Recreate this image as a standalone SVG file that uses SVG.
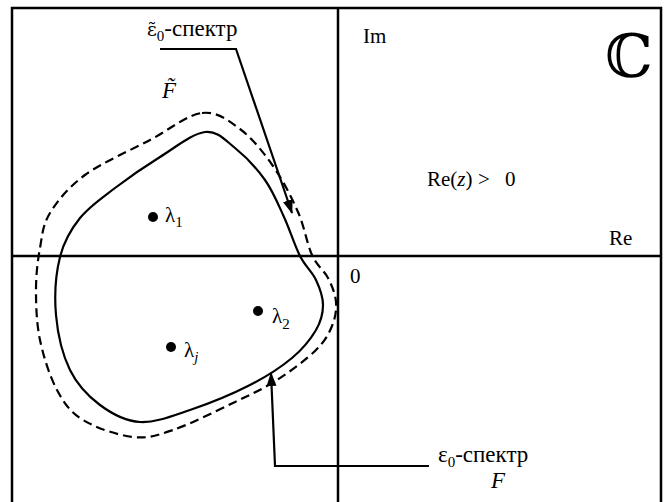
<svg xmlns="http://www.w3.org/2000/svg" width="667" height="502" viewBox="0 0 667 502">
<defs>
<style>
.ln{fill:none;stroke:#000;stroke-width:2.5}
.cv{fill:none;stroke:#000;stroke-width:2.2}
.ds{fill:none;stroke:#000;stroke-width:2.2;stroke-dasharray:9 5}
.t{font-family:"Liberation Serif","Times New Roman",serif;font-size:21px;fill:#000}
.b{font-size:23px}
.s{font-size:15px}
.i{font-style:italic}
.dv{font-family:"DejaVu Serif",serif;font-size:19px}
.pt{fill:#000}
.cn{fill:none;stroke:#000;stroke-width:2.2}
</style>
<marker id="ah" markerUnits="userSpaceOnUse" markerWidth="14" markerHeight="10" viewBox="0 0 14 10" refX="13" refY="5" orient="auto">
<path d="M0,0 L14,5 L0,10 Z" fill="#000"/>
</marker>
</defs>
<rect width="667" height="502" fill="#fff"/>
<g id="frame">
<path class="ln" d="M12,502 V8 H661 V502"/>
</g>
<g id="axes">
<line class="ln" x1="12" y1="256" x2="661" y2="256"/>
<line class="ln" x1="338" y1="8" x2="338" y2="502"/>
<text class="t" x="363" y="43">Im</text>
<text class="t" x="609" y="245">Re</text>
<text class="t" x="350" y="283">0</text>
<text x="605" y="77" style="font-family:'DejaVu Serif','DejaVu Sans',serif;font-size:60px">ℂ</text>
<text class="t" x="427" y="186">Re(<tspan class="i">z</tspan>)<tspan x="478">&gt;</tspan><tspan x="505">0</tspan></text>
</g>
<g id="curve-F">
<path class="cv" d="M205,132 C217.5,130.5 225,140 235,148 C245,156 256.83,168.5 265,180 C273.17,191.5 278.17,204.33 284,217 C289.83,229.67 294.67,245.5 300,256 C305.33,266.5 312.17,271.83 316,280 C319.83,288.17 323,296.67 323,305 C323,313.33 321.17,321.17 316,330 C310.83,338.83 303,348.83 292,358 C281,367.17 267,376.33 250,385 C233,393.67 208.33,403.83 190,410 C171.67,416.17 155,422.83 140,422 C125,421.17 111.67,413.67 100,405 C88.33,396.33 77.33,385 70,370 C62.67,355 57.67,333.83 56,315 C54.33,296.17 56,273.17 60,257 C64,240.83 70.83,229.5 80,218 C89.17,206.5 101.67,198.17 115,188 C128.33,177.83 145,166.33 160,157 C175,147.67 192.5,133.5 205,132 Z"/>
</g>
<g id="curve-F-tilde">
<path class="ds" d="M202,113 C217,111.17 228.17,120.17 240,129 C251.83,137.83 263.33,152.17 273,166 C282.67,179.83 291.5,197.17 298,212 C304.5,226.83 307,244 312,255 C317,266 324,270.17 328,278 C332,285.83 335.33,294 336,302 C336.67,310 335.33,318 332,326 C328.67,334 325.17,341 316,350 C306.83,359 290.83,371.17 277,380 C263.17,388.83 250.33,394.67 233,403 C215.67,411.33 189.67,424.33 173,430 C156.33,435.67 148,438.67 133,437 C118,435.33 95.67,427.83 83,420 C70.33,412.17 64.17,403.33 57,390 C49.83,376.67 43.5,356.67 40,340 C36.5,323.33 36,305.33 36,290 C36,274.67 37.67,260.83 40,248 C42.33,235.17 42.5,225.17 50,213 C57.5,200.83 68.33,187.17 85,175 C101.67,162.83 130.5,150.33 150,140 C169.5,129.67 187,114.83 202,113 Z"/>
<text class="t i b" x="162" y="98">F̃</text>
</g>
<g id="lambda-1">
<circle class="pt" cx="153" cy="217" r="5"/>
<text class="t" x="165" y="222">λ<tspan class="s" dy="5">1</tspan></text>
</g>
<g id="lambda-2">
<circle class="pt" cx="258" cy="311" r="5"/>
<text class="t" x="272" y="323">λ<tspan class="s" dy="6">2</tspan></text>
</g>
<g id="lambda-j">
<circle class="pt" cx="171" cy="347" r="5"/>
<text class="t" x="184" y="357">λ<tspan class="s i" dy="5">j</tspan></text>
</g>
<g id="label-eps-tilde">
<text class="t b" x="147" y="36"><tspan class="dv">ε̃</tspan><tspan class="s" dy="5">0</tspan><tspan dy="-5">-спектр</tspan></text>
</g>
<g id="label-eps">
<text class="t b" x="438" y="462">ε<tspan class="s" dy="5">0</tspan><tspan dy="-5">-спектр</tspan></text>
<text class="t i b" x="491" y="488">F</text>
</g>
<g id="connectors">
<path class="cn" d="M160,49 H236 L292,213" marker-end="url(#ah)"/>
<path class="cn" d="M429,466 H275 L271,373" marker-end="url(#ah)"/>
</g>
</svg>
